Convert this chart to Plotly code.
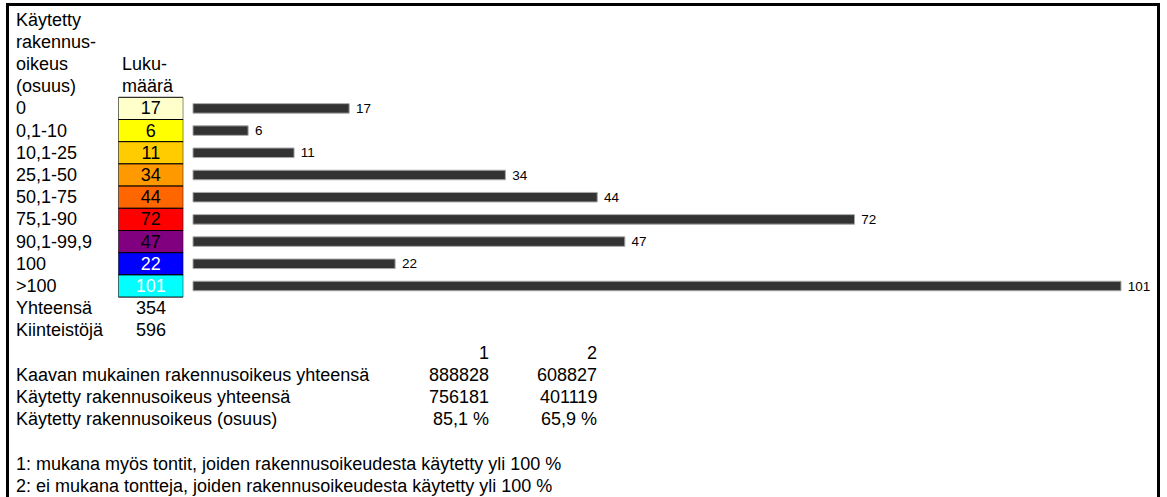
import plotly.graph_objects as go

W, H = 1167, 497

# ---------------- data ----------------
categories = ["0", "0,1-10", "10,1-25", "25,1-50", "50,1-75", "75,1-90", "90,1-99,9", "100", ">100"]
counts = [17, 6, 11, 34, 44, 72, 47, 22, 101]
cell_colors = ["#FFFFCC", "#FFFF00", "#FFCC00", "#FF9900", "#FF6600", "#FF0000", "#800080", "#0000FF", "#00FFFF"]
cell_text_colors = ["#000000"] * 7 + ["#FFFFFF", "#FFFFFF"]

header_lines = ["Käytetty", "rakennus-", "oikeus", "(osuus)"]
count_header = ["Luku-", "määrä"]
summary_labels = ["Yhteensä", "Kiinteistöjä"]
summary_values = ["354", "596"]
table_cols = ["1", "2"]
table_rows = ["Kaavan mukainen rakennusoikeus yhteensä",
              "Käytetty rakennusoikeus yhteensä",
              "Käytetty rakennusoikeus (osuus)"]
table_col1 = ["888828", "756181", "85,1 %"]
table_col2 = ["608827", "401119", "65,9 %"]
footnotes = ["1: mukana myös tontit, joiden rakennusoikeudesta käytetty yli 100 %",
             "2: ei mukana tontteja, joiden rakennusoikeudesta käytetty yli 100 %"]

# ---------------- geometry ----------------
ROW0 = 108.4   # pixel centre of first category row
ROWH = 22.2    # pixel height of a row
BAR_X0 = 193.0
PX_PER_UNIT = 928.0 / 101.0
FONT = "Liberation Sans, Arial, sans-serif"
FS = 18

y_range = [(H - ROW0) / ROWH, -ROW0 / ROWH]
x_range = [-BAR_X0 / PX_PER_UNIT, (W - BAR_X0) / PX_PER_UNIT]

fig = go.Figure()

# colour cells with counts
fig.add_trace(go.Bar(
    x=[1] * len(categories), y=categories, orientation="h",
    xaxis="x2", yaxis="y", width=1,
    marker=dict(color=cell_colors, line=dict(color="#000000", width=1)),
    text=[str(c) for c in counts], textposition="inside",
    insidetextanchor="middle", textangle=0, constraintext="none",
    textfont=dict(family=FONT, size=FS, color=cell_text_colors),
    hoverinfo="skip", showlegend=False,
))

# dark bars
fig.add_trace(go.Bar(
    x=counts, y=categories, orientation="h",
    xaxis="x", yaxis="y", width=0.43,
    marker=dict(color="#333333", line=dict(color="#A8A8A8", width=1)),
    texttemplate="\u00a0%{x}", textposition="outside", textangle=0,
    constraintext="none", cliponaxis=False,
    textfont=dict(family=FONT, size=13.5, color="#000000"),
    hoverinfo="skip", showlegend=False,
))

anns = []


def ann(text, xpx, row, anchor="left", size=FS):
    anns.append(dict(text=text, x=xpx / W, xref="paper", y=row, yref="y",
                     xanchor=anchor, yanchor="middle", showarrow=False,
                     font=dict(family=FONT, size=size, color="#000000")))


for k, t in enumerate(header_lines):
    ann(t, 14, k - len(header_lines))
for k, t in enumerate(count_header):
    ann(t, 120, k - len(count_header))
for i, c in enumerate(categories):
    ann(c, 14, i)
for k, (lab, val) in enumerate(zip(summary_labels, summary_values)):
    r = len(categories) + k
    ann(lab, 14, r)
    ann(val, 150.8, r, "center")

r0 = len(categories) + len(summary_labels)
ann(table_cols[0], 491, r0, "right")
ann(table_cols[1], 599, r0, "right")
for k, (lab, v1, v2) in enumerate(zip(table_rows, table_col1, table_col2)):
    r = r0 + 1 + k
    ann(lab, 14, r)
    ann(v1, 491, r, "right")
    ann(v2, 599, r, "right")
for k, t in enumerate(footnotes):
    ann(t, 14, r0 + len(table_rows) + 2 + k)

fig.update_layout(
    width=W, height=H,
    margin=dict(l=0, r=0, t=0, b=0, pad=0),
    paper_bgcolor="#FFFFFF", plot_bgcolor="#FFFFFF",
    barmode="overlay",
    xaxis=dict(domain=[0, 1], range=x_range, visible=False, fixedrange=True),
    xaxis2=dict(domain=[118.3 / W, 183.3 / W], range=[0, 1], anchor="y",
                visible=False, fixedrange=True),
    yaxis=dict(domain=[0, 1], type="category", categoryorder="array",
               categoryarray=categories, range=y_range, visible=False,
               fixedrange=True),
    annotations=anns,
    shapes=[dict(type="rect", xref="paper", yref="paper",
                 x0=7.5 / W, x1=1158.5 / W, y0=1 - 4.5 / H, y1=-0.1,
                 line=dict(color="#000000", width=3), layer="above")],
    showlegend=False,
)

fig.write_html("out.html")
